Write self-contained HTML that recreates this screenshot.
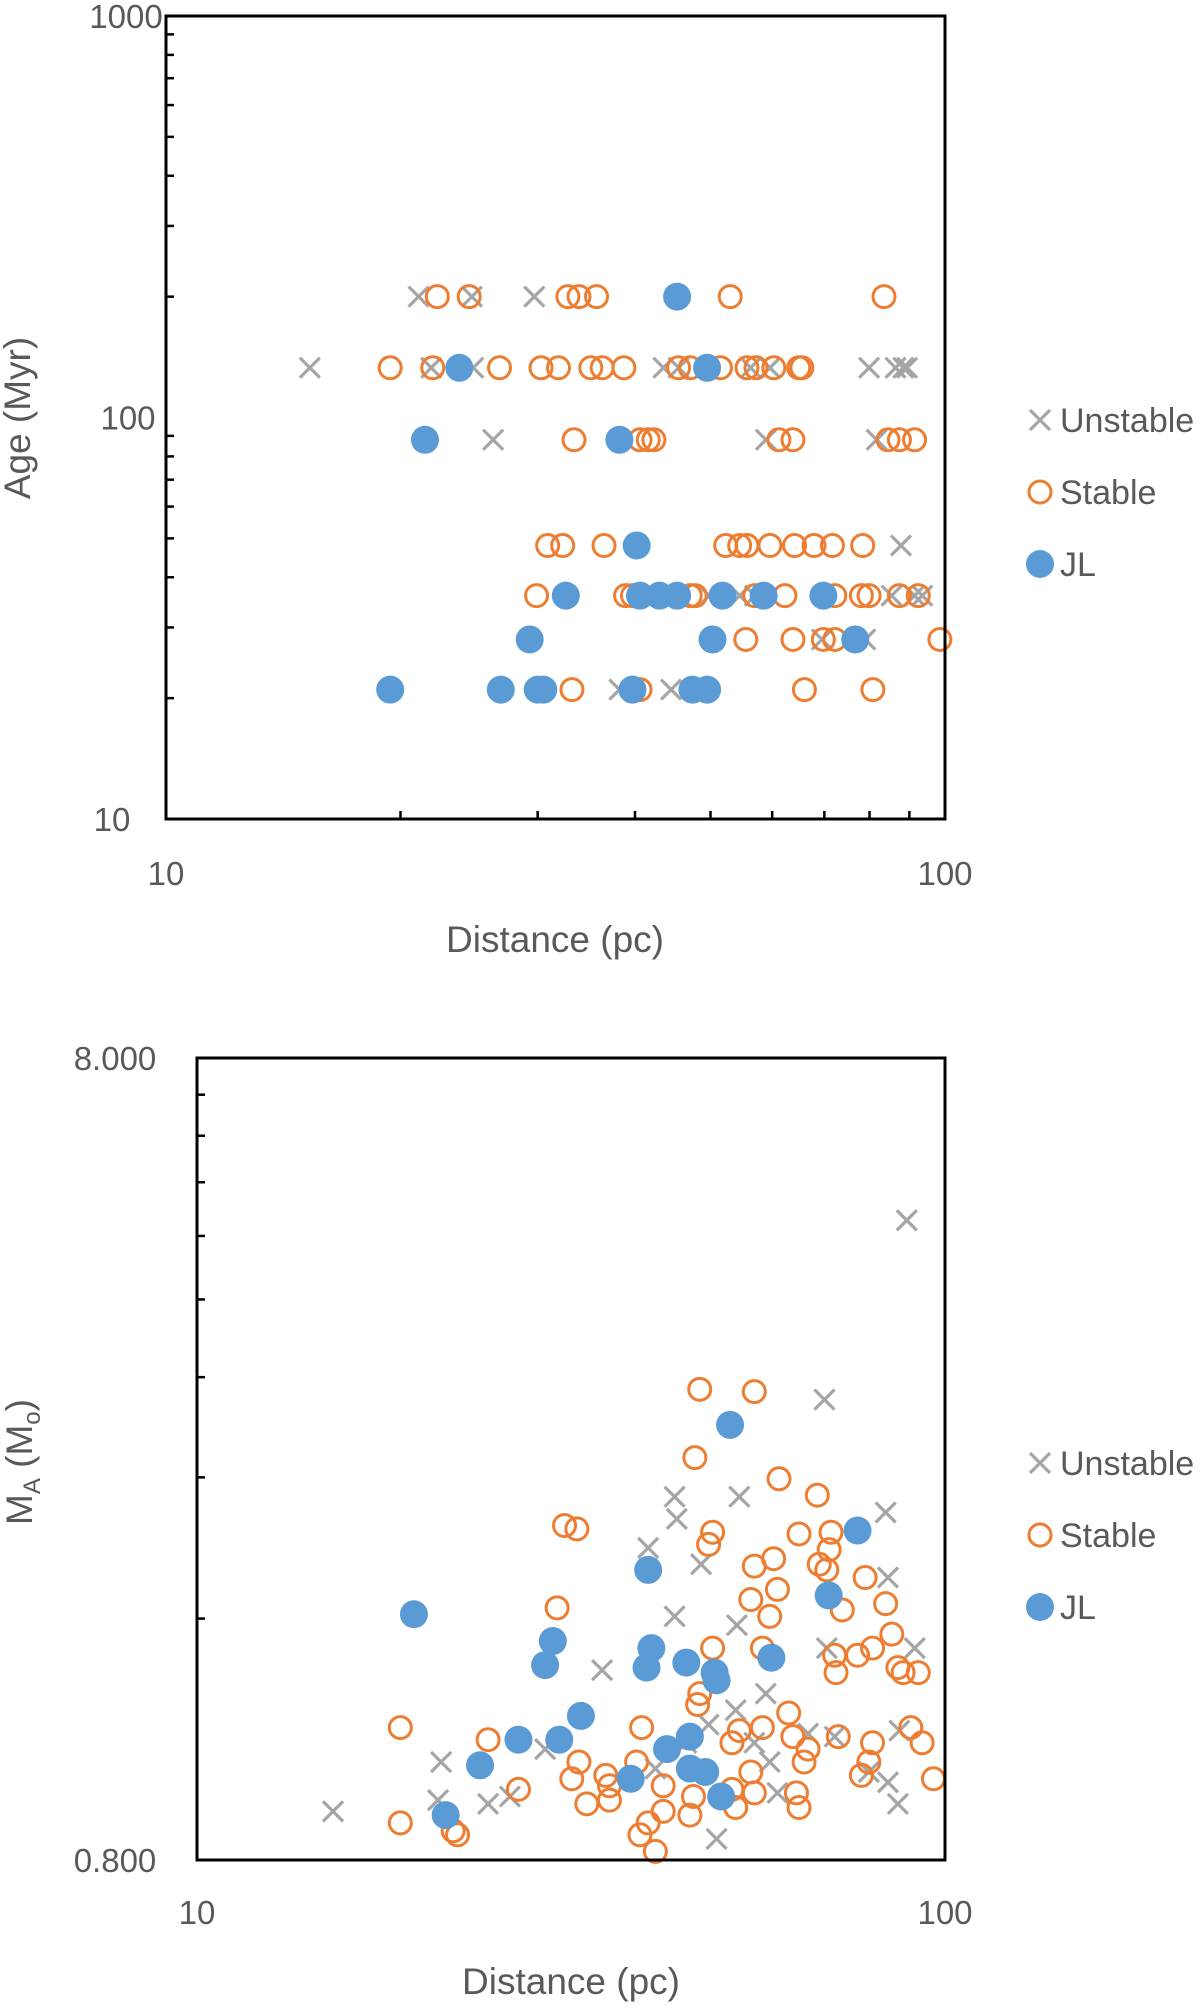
<!DOCTYPE html>
<html><head><meta charset="utf-8"><style>
html,body{margin:0;padding:0;background:#fff;}
svg{display:block;font-family:"Liberation Sans",sans-serif;}
</style></head><body>
<svg id="s" width="1200" height="2009" viewBox="0 0 1200 2009"></svg>
<script>
// ---------- Top chart data: [distance pc, age Myr] ----------
const topUnstable=[[21.1,200],[24.7,200],[29.7,200],[15.3,133],[21.9,133],[24.8,133],[43.5,133],[45.5,133],[56.3,133],[59.6,133],[79.9,133],[86.4,133],[88.4,133],[89.4,133],[26.3,88],[58.9,88],[81.7,88],[87.8,48],[42.5,36],[49.8,36],[54.5,36],[57.0,36],[85.4,36],[91.4,36],[93.5,36],[69.5,28],[79.0,28],[38.2,21],[44.5,21]];
const topStable=[[22.3,200],[24.5,200],[32.8,200],[33.9,200],[35.7,200],[53.0,200],[83.5,200],[19.4,133],[22.0,133],[26.8,133],[30.3,133],[31.9,133],[35.1,133],[36.3,133],[38.7,133],[45.5,133],[47.1,133],[51.5,133],[55.7,133],[57.2,133],[60.3,133],[64.9,133],[65.5,133],[33.4,88],[40.6,88],[41.6,88],[42.3,88],[61.2,88],[63.8,88],[84.5,88],[87.4,88],[91.4,88],[30.9,48],[32.3,48],[36.5,48],[52.3,48],[54.5,48],[55.7,48],[59.6,48],[64.1,48],[67.9,48],[71.7,48],[78.4,48],[29.9,36],[38.9,36],[39.7,36],[47.1,36],[47.8,36],[57.0,36],[62.3,36],[72.2,36],[78.1,36],[79.9,36],[87.4,36],[92.4,36],[55.5,28],[63.8,28],[69.8,28],[72.2,28],[98.5,28],[33.2,21],[40.6,21],[66.0,21],[80.8,21]];
const topJL=[[45.3,200],[23.8,133],[49.5,133],[21.5,88],[38.2,88],[40.2,48],[32.6,36],[40.6,36],[43.0,36],[45.3,36],[51.8,36],[58.5,36],[69.8,36],[29.3,28],[50.3,28],[76.7,28],[19.4,21],[26.9,21],[30.0,21],[30.5,21],[39.7,21],[47.4,21],[49.5,21]];
const topYTicks=["1000","100","10"];
const topXTicks=["10","100"];
// ---------- Bottom chart data: [distance pc, mass Msun] ----------
const botUnstable=[[15.2,0.92],[21.2,1.06],[21.0,0.95],[24.5,0.94],[26.2,0.96],[29.2,1.10],[34.8,1.38],[40.1,1.96],[43.5,2.27],[43.8,2.13],[47.2,1.87],[43.5,1.61],[53.1,2.27],[69.0,3.00],[88.9,5.02],[83.3,2.17],[83.9,1.80],[52.7,1.57],[57.6,1.29],[52.5,1.23],[48.3,1.18],[49.5,0.85],[58.3,1.06],[59.7,0.97],[69.5,1.47],[71.2,1.14],[79.1,1.03],[83.9,1.00],[86.5,0.94],[86.9,1.16],[91.1,1.47],[45.1,1.12],[41.0,1.04],[65.6,1.15],[55.6,1.12]];
const botStable=[[18.7,1.17],[18.7,0.89],[22.0,0.87],[22.3,0.86],[24.5,1.13],[26.9,0.98],[30.3,1.65],[31.0,2.09],[32.2,2.07],[32.4,1.06],[31.7,1.01],[33.2,0.94],[35.2,1.02],[35.6,0.95],[38.7,1.06],[39.3,1.17],[39.1,0.86],[40.1,0.89],[41.0,0.82],[42.0,0.92],[46.3,2.54],[47.0,3.09],[55.6,3.07],[48.9,2.05],[48.3,1.98],[48.9,1.47],[47.0,1.29],[46.7,1.25],[46.1,0.96],[45.6,0.91],[52.5,0.93],[51.9,1.12],[53.1,1.16],[55.6,1.86],[59.0,1.90],[55.0,1.69],[59.7,1.74],[58.3,1.61],[57.0,1.47],[57.0,1.17],[61.8,1.22],[62.6,1.14],[60.0,2.39],[63.8,2.04],[67.5,2.28],[70.4,2.05],[70.0,1.95],[67.9,1.87],[69.5,1.84],[72.9,1.64],[71.2,1.44],[71.5,1.37],[72.0,1.14],[76.4,1.44],[78.2,1.80],[80.0,1.47],[83.3,1.67],[84.9,1.53],[86.5,1.39],[87.9,1.37],[92.1,1.37],[90.0,1.17],[93.2,1.12],[96.5,1.01],[77.3,1.02],[79.1,1.06],[80.0,1.12],[63.3,0.97],[63.8,0.93],[64.8,1.06],[65.6,1.10],[55.0,1.03],[55.6,0.97],[51.9,0.98],[42.0,0.99],[35.6,0.99]];
const botJL=[[19.5,1.62],[21.5,0.91],[23.9,1.05],[26.9,1.13],[29.2,1.40],[29.9,1.50],[30.5,1.13],[32.6,1.21],[38.0,1.01],[40.1,1.84],[39.9,1.39],[40.5,1.47],[45.1,1.41],[42.5,1.10],[45.6,1.14],[45.6,1.04],[47.8,1.03],[49.2,1.37],[49.5,1.34],[50.2,0.96],[51.6,2.79],[58.6,1.43],[69.9,1.71],[76.4,2.06]];
const botYTicks=["8.000","0.800"];
const legendLabels=["Unstable","Stable","JL"];

const NS="http://www.w3.org/2000/svg";
const svg=document.getElementById('s');
function mk(tag,attrs,parent,name){const e=document.createElementNS(NS,tag);for(const k in attrs)e.setAttribute(k,attrs[k]);(parent||svg).appendChild(e);


return e;}
const GRAY="#A5A5A5",ORANGE="#ED7D31",BLUE="#5B9BD5",TXT="#595959";

function logScale(d0,d1,p0,p1){return v=>p0+(Math.log10(v)-Math.log10(d0))/(Math.log10(d1)-Math.log10(d0))*(p1-p0);}

function marker(g,kind,cx,cy){
  if(kind==='u'){const s=10;
    mk('path',{d:`M${cx-s},${cy-s}L${cx+s},${cy+s}M${cx-s},${cy+s}L${cx+s},${cy-s}`,stroke:GRAY,'stroke-width':3.2,fill:'none'},g,'unstable-point');}
  else if(kind==='s'){mk('circle',{cx,cy,r:11,fill:'none',stroke:ORANGE,'stroke-width':3},g,'stable-point');}
  else {mk('circle',{cx,cy,r:14,fill:BLUE},g,'jl-point');}
}

function chart(o){
  const g=mk('g',{},svg,o.name);
  const sx=logScale(10,100,o.L,o.R), sy=logScale(o.ymin,o.ymax,o.B,o.T);
  o.yMinor.forEach(v=>{const y=sy(v);mk('line',{x1:o.L,x2:o.L+8,y1:y,y2:y,stroke:'#000','stroke-width':2.5},g,'y-minor-tick');});
  (o.xMinor||[]).forEach(v=>{const x=sx(v);mk('line',{x1:x,x2:x,y1:o.B,y2:o.B-8,stroke:'#000','stroke-width':2.5},g,'x-minor-tick');});
  const sg=mk('g',{},g,'unstable-series');o.u.forEach(p=>marker(sg,'u',sx(p[0]),sy(p[1])));
  const og=mk('g',{},g,'stable-series');o.s.forEach(p=>marker(og,'s',sx(p[0]),sy(p[1])));
  const jg=mk('g',{},g,'jl-series');o.j.forEach(p=>marker(jg,'j',sx(p[0]),sy(p[1])));
  mk('rect',{x:o.L,y:o.T,width:o.R-o.L,height:o.B-o.T,fill:'none',stroke:'#000','stroke-width':3},g,'plot-frame');
  o.yLabels.forEach((t,i)=>{const v=o.yVals[i];const e=mk('text',{x:o.yLabX[i],y:sy(v)+12,'text-anchor':'middle','font-size':33,fill:TXT},g,'y-tick-label');e.textContent=t;});
  ["10","100"].forEach(t=>{const e=mk('text',{x:sx(+t),y:o.xLabY,'text-anchor':'middle','font-size':33,fill:TXT},g,'x-tick-label');e.textContent=t;});
  const xt=mk('text',{x:o.xtX,y:o.xtY,'text-anchor':'middle','font-size':37,fill:TXT},g,'x-axis-title');xt.textContent='Distance (pc)';
  const yt=mk('text',{x:0,y:0,'text-anchor':'middle','font-size':37,fill:TXT,transform:`translate(${o.ytX},${o.ytY}) rotate(-90)`},g,'y-axis-title');
  if(o.mass){yt.innerHTML='M<tspan font-size="24" dy="8">A</tspan><tspan dy="-8"> (M</tspan><tspan font-size="24" dy="8">o</tspan><tspan dy="-8">)</tspan>';}
  else yt.textContent='Age (Myr)';
  const lg=mk('g',{},g,'legend');
  legendLabels.forEach((t,i)=>{const y=o.legY+i*72;marker(lg,['u','s','j'][i],1040,y);
    const e=mk('text',{x:1060,y:y+12,'font-size':34,fill:TXT},lg,'legend-label');e.textContent=t;});
}
chart({name:'age-chart',L:166,R:945,T:16,B:819,ymin:10,ymax:1000,
  yMinor:[20,30,40,50,60,70,80,90,200,300,400,500,600,700,800,900],xMinor:[20,30,40,50,60,70,80,90],
  u:topUnstable,s:topStable,j:topJL,yLabels:topYTicks,yVals:[1000,100,10],yLabX:[126,128,112],xLabY:885,xtX:555,xtY:952,ytX:30,ytY:418,legY:420});
chart({name:'mass-chart',mass:true,L:197,R:945,T:1058,B:1860,ymin:0.8,ymax:8,
  yMinor:[1.6,2.4,3.2,4.0,4.8,5.6,6.4,7.2],xMinor:[],
  u:botUnstable,s:botStable,j:botJL,yLabels:botYTicks,yVals:[8,0.8],yLabX:[115,115],xLabY:1924,xtX:571,xtY:1994,ytX:32,ytY:1462,legY:1463});
</script>
</body></html>
